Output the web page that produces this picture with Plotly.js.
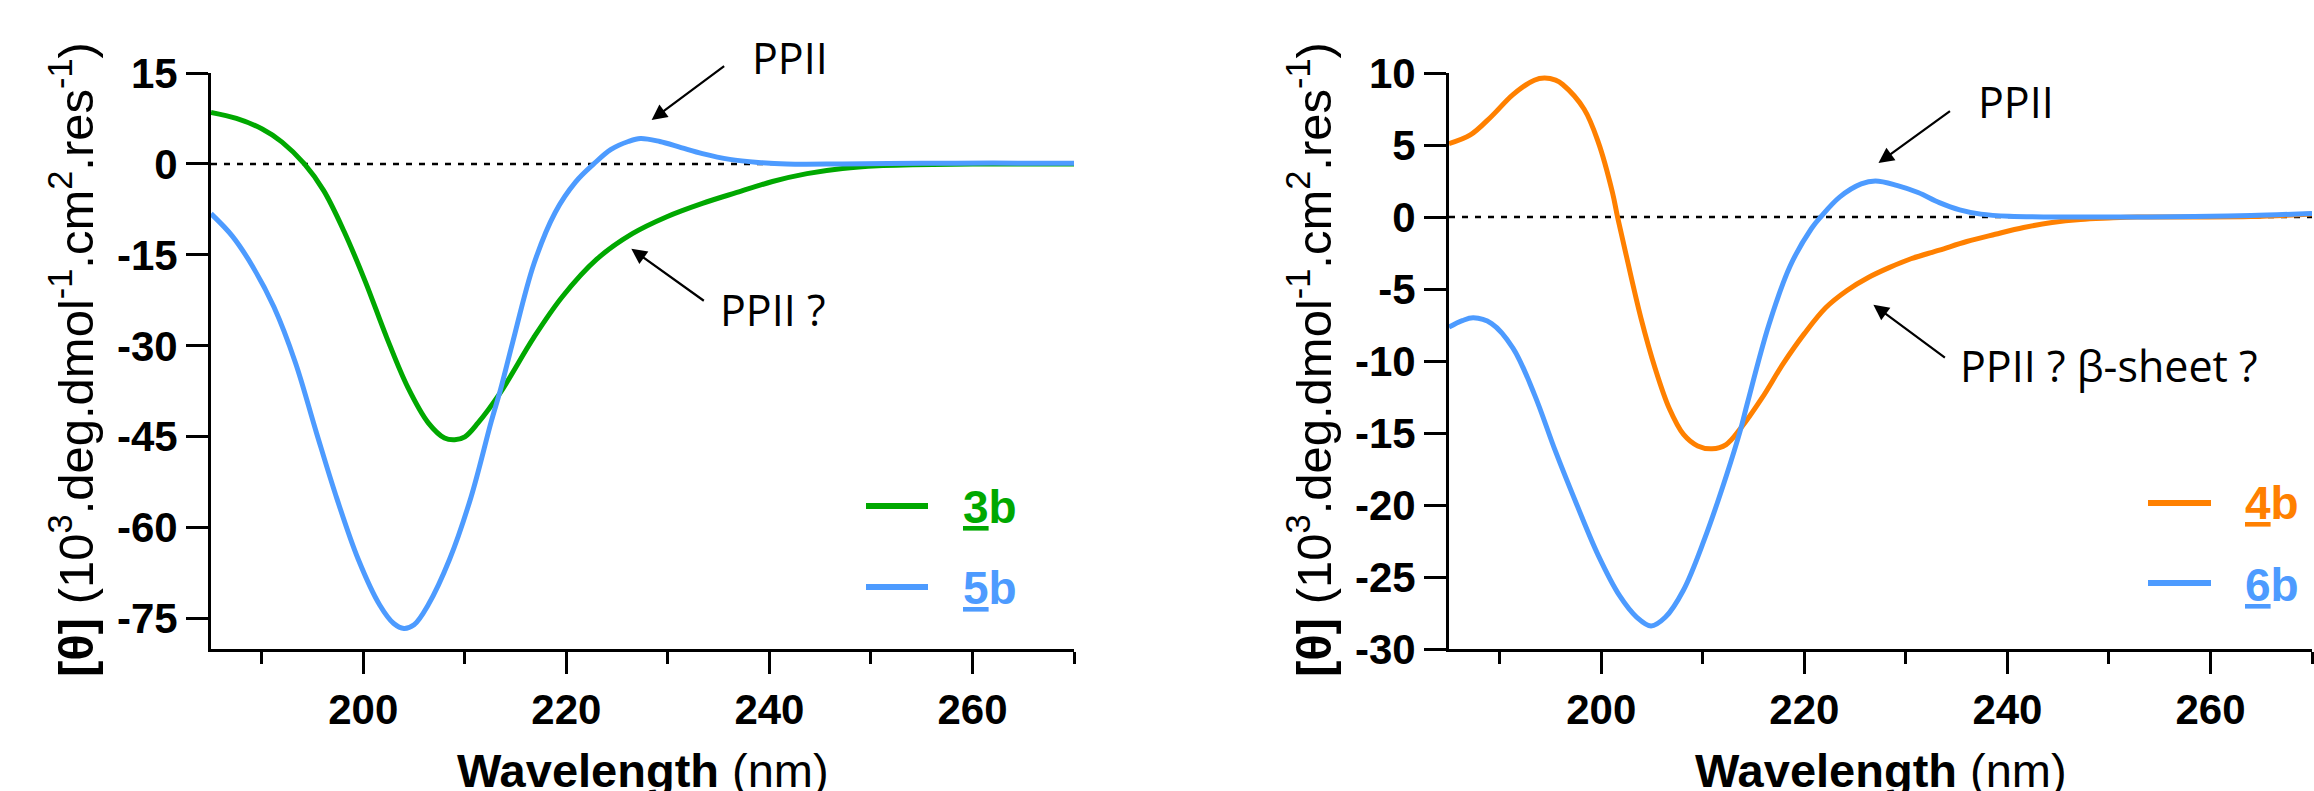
<!DOCTYPE html>
<html>
<head>
<meta charset="utf-8">
<script src="https://cdn.plot.ly/plotly-3.0.1.min.js"></script>
<style>html,body{margin:0;padding:0;background:#fff;}#chart{width:2314px;height:791px;}</style>
</head>
<body>
<div id="chart"></div>
<script>
// ---- Data ----
var wl_3b = [185, 187.5, 190, 192, 194.2, 196.1, 198.1, 200.2, 202.3, 204.4, 206.4, 208, 209, 210, 211.3, 213.5, 216.8, 219.6, 223, 226.5, 229.9, 233.4, 236.8, 240.3, 243.7, 247.2, 250.7, 254.1, 261, 270];
var theta_3b = [8.5, 7.5, 5.8, 3.6, 0, -4.4, -11.1, -19.4, -28.6, -36.9, -42.7, -45.2, -45.5, -45.0, -42.7, -37.7, -28.6, -21.9, -15.7, -11.5, -8.7, -6.5, -4.7, -2.9, -1.6, -0.75, -0.3, -0.15, 0, 0];

var wl_5b = [185, 187.1, 189.1, 191.2, 193.3, 195.4, 197.4, 199.5, 201.6, 203, 204, 205, 206.4, 208.5, 210.6, 212.6, 213.5, 214.7, 216.8, 218.9, 220.9, 222.7, 224.4, 226.1, 227.3, 229.2, 231.3, 233.4, 236.1, 238.9, 241.7, 247.2, 255, 262, 270];
var theta_5b = [-8.2, -11.9, -16.9, -23.6, -32.7, -44.4, -55.2, -65.2, -72.7, -75.8, -76.6, -76.0, -72.7, -65.2, -55.0, -42.5, -37.3, -29.5, -16.5, -8.0, -3.0, 0, 2.4, 3.7, 4.2, 3.7, 2.7, 1.7, 0.75, 0.25, 0, 0, 0.1, 0.15, 0.1];

var wl_4b = [185, 187.1, 189.2, 191.3, 193.4, 194.4, 195.5, 196.2, 198.3, 199.7, 201.1, 201.6, 202.5, 203.9, 205.3, 206.7, 208.1, 209.5, 210.9, 212.3, 213.7, 215.8, 217.9, 220, 222.1, 224.2, 226.3, 228.4, 230.5, 233.3, 236, 238.8, 241.6, 244.4, 247.2, 250, 252.8, 258.4, 264, 270];
var theta_4b = [5.1, 5.7, 7.0, 8.5, 9.5, 9.65, 9.5, 9.2, 7.5, 5.2, 1.7, 0, -2.8, -7.0, -10.5, -13.3, -15.1, -15.9, -16.1, -15.8, -14.7, -12.6, -10.2, -8.1, -6.3, -5.1, -4.2, -3.5, -2.9, -2.3, -1.7, -1.2, -0.73, -0.38, -0.17, -0.07, 0, 0, 0.03, 0.2];

var wl_6b = [185, 186.3, 187.4, 189.2, 191.3, 193.4, 195.5, 197.6, 199.7, 201.8, 203.5, 204.9, 206.3, 208.1, 210.2, 212.3, 213.7, 214.4, 216.5, 218.6, 220.7, 221.6, 223.5, 225.6, 227, 229.1, 231.2, 233.3, 235.3, 237.4, 240.2, 244.4, 251.4, 258.4, 264, 270];
var theta_6b = [-7.65, -7.2, -7.0, -7.4, -9.1, -12.3, -16.3, -20.0, -23.5, -26.3, -27.8, -28.4, -27.8, -25.9, -22.3, -18.0, -14.8, -12.9, -7.5, -3.4, -0.8, 0, 1.4, 2.3, 2.5, 2.2, 1.7, 1.0, 0.5, 0.2, 0.05, 0, 0, 0.03, 0.1, 0.25];

var xTicks = [200, 220, 240, 260];
var yTicksLeft = [15, 0, -15, -30, -45, -60, -75];
var yTicksRight = [10, 5, 0, -5, -10, -15, -20, -25, -30];

var seriesNames = ['<u>3</u>b', '<u>5</u>b', '<u>4</u>b', '<u>6</u>b'];
var colGreen = '#00a800', colBlue = '#4d9bff', colOrange = '#ff8000';

// ---- Layout helpers (pixels -> paper) ----
var W = 2314, H = 791;
function px(x) { return x / W; }
function py(y) { return 1 - y / H; }

var tickFont = {family: 'Liberation Sans, Arial, sans-serif', size: 42, color: '#000', weight: 'bold'};
var annFont = {family: 'Open Sans, Noto Sans, sans-serif', size: 43, color: '#000'};
var titleFont = {family: 'Liberation Sans, Arial, sans-serif', size: 47, color: '#000'};
var yTitleFont = {family: 'Liberation Sans, Arial, sans-serif', size: 49, color: '#000'};
var legFontBase = {family: 'Liberation Sans, Arial, sans-serif', size: 46, weight: 'bold'};

function line(x, y, color, xa, ya) {
  return {x: x, y: y, xaxis: xa, yaxis: ya, type: 'scatter', mode: 'lines',
          line: {color: color, width: 5, shape: 'spline', smoothing: 1},
          showlegend: false, hoverinfo: 'skip'};
}

var traces = [
  line(wl_3b, theta_3b, colGreen, 'x', 'y'),
  line(wl_5b, theta_5b, colBlue, 'x', 'y'),
  line(wl_4b, theta_4b, colOrange, 'x2', 'y2'),
  line(wl_6b, theta_6b, colBlue, 'x2', 'y2')
];

function xAxis(domain, anchor) {
  return {domain: domain, anchor: anchor, range: [185, 270], showgrid: false, zeroline: false,
          showline: true, linewidth: 3, linecolor: '#000', mirror: false,
          ticks: 'outside', ticklen: 22, tickwidth: 3, tickcolor: '#000',
          tickmode: 'array', tickvals: xTicks, ticktext: xTicks.map(String), tickfont: tickFont,
          minor: {dtick: 10, tick0: 190, ticks: 'outside', ticklen: 12, tickwidth: 3, tickcolor: '#000', showgrid: false}};
}
function yAxis(domain, anchor, range, vals) {
  return {domain: domain, anchor: anchor, range: range, showgrid: false, zeroline: false,
          showline: true, linewidth: 3, linecolor: '#000',
          ticks: 'outside', ticklen: 22, tickwidth: 3, tickcolor: '#000',
          tickmode: 'array', tickvals: vals, ticktext: vals.map(String), tickfont: tickFont};
}

var yDom = [py(649), py(73)];
var titleText = '<b>[θ]</b> (10<sup>3</sup>.deg.dmol<sup>-1</sup>.cm<sup>2</sup>.res<sup>-1</sup>)';
var layout = {
  width: W, height: H,
  margin: {l: 0, r: 0, t: 0, b: 0, pad: 0},
  paper_bgcolor: '#fff', plot_bgcolor: '#fff',
  showlegend: false,
  xaxis: xAxis([px(211), px(1074)], 'y'),
  yaxis: yAxis(yDom, 'x', [-80, 15], yTicksLeft),
  xaxis2: xAxis([px(1449), px(2312)], 'y2'),
  yaxis2: yAxis(yDom, 'x2', [-30, 10], yTicksRight),
  shapes: [
    {type: 'line', xref: 'x', yref: 'y', x0: 185, x1: 270, y0: 0, y1: 0, layer: 'below',
     line: {color: '#000', width: 2.5, dash: '6px,7px'}},
    {type: 'line', xref: 'x2', yref: 'y2', x0: 185, x1: 270, y0: 0, y1: 0, layer: 'below',
     line: {color: '#000', width: 2.5, dash: '6px,7px'}},
    // legend samples
    {type: 'line', xref: 'paper', yref: 'paper', x0: px(866), x1: px(928), y0: py(506), y1: py(506), line: {color: colGreen, width: 6}},
    {type: 'line', xref: 'paper', yref: 'paper', x0: px(866), x1: px(928), y0: py(587), y1: py(587), line: {color: colBlue, width: 6}},
    {type: 'line', xref: 'paper', yref: 'paper', x0: px(2148), x1: px(2211), y0: py(503), y1: py(503), line: {color: colOrange, width: 6}},
    {type: 'line', xref: 'paper', yref: 'paper', x0: px(2148), x1: px(2211), y0: py(583), y1: py(583), line: {color: colBlue, width: 6}}
  ],
  annotations: [
    // axis titles
    {xref: 'paper', yref: 'paper', x: px(72), y: py(360), xanchor: 'center', yanchor: 'middle', textangle: -90, showarrow: false,
     text: titleText, font: yTitleFont},
    {xref: 'paper', yref: 'paper', x: px(1310), y: py(360), xanchor: 'center', yanchor: 'middle', textangle: -90, showarrow: false,
     text: titleText, font: yTitleFont},
    {xref: 'paper', yref: 'paper', x: px(642.5), y: py(770), xanchor: 'center', yanchor: 'middle', showarrow: false,
     text: '<b>Wavelength</b> (nm)', font: titleFont},
    {xref: 'paper', yref: 'paper', x: px(1880.5), y: py(770), xanchor: 'center', yanchor: 'middle', showarrow: false,
     text: '<b>Wavelength</b> (nm)', font: titleFont},
    // legend labels
    {xref: 'paper', yref: 'paper', x: px(961), y: py(507), xanchor: 'left', yanchor: 'middle', showarrow: false,
     text: seriesNames[0], font: Object.assign({}, legFontBase, {color: colGreen})},
    {xref: 'paper', yref: 'paper', x: px(961), y: py(588), xanchor: 'left', yanchor: 'middle', showarrow: false,
     text: seriesNames[1], font: Object.assign({}, legFontBase, {color: colBlue})},
    {xref: 'paper', yref: 'paper', x: px(2243), y: py(503), xanchor: 'left', yanchor: 'middle', showarrow: false,
     text: seriesNames[2], font: Object.assign({}, legFontBase, {color: colOrange})},
    {xref: 'paper', yref: 'paper', x: px(2243), y: py(585), xanchor: 'left', yanchor: 'middle', showarrow: false,
     text: seriesNames[3], font: Object.assign({}, legFontBase, {color: colBlue})},
    // text labels
    {xref: 'paper', yref: 'paper', x: px(750), y: py(58), xanchor: 'left', yanchor: 'middle', showarrow: false, text: 'PPII', font: annFont},
    {xref: 'paper', yref: 'paper', x: px(718), y: py(309), xanchor: 'left', yanchor: 'middle', showarrow: false, text: 'PPII ?', font: annFont},
    {xref: 'paper', yref: 'paper', x: px(1976), y: py(102), xanchor: 'left', yanchor: 'middle', showarrow: false, text: 'PPII', font: annFont},
    {xref: 'paper', yref: 'paper', x: px(1958), y: py(365), xanchor: 'left', yanchor: 'middle', showarrow: false, text: 'PPII ? β-sheet ?', font: annFont},
    // arrows
    {xref: 'x', yref: 'y', x: 228.4, y: 7.25, ax: 74, ay: -55, text: '', showarrow: true, arrowhead: 2, arrowsize: 1.4, arrowwidth: 2.2, arrowcolor: '#000', standoff: 0},
    {xref: 'x', yref: 'y', x: 226.4, y: -14.0, ax: 74, ay: 53, text: '', showarrow: true, arrowhead: 2, arrowsize: 1.4, arrowwidth: 2.2, arrowcolor: '#000', standoff: 0},
    {xref: 'x2', yref: 'y2', x: 227.3, y: 3.75, ax: 73, ay: -53, text: '', showarrow: true, arrowhead: 2, arrowsize: 1.4, arrowwidth: 2.2, arrowcolor: '#000', standoff: 0},
    {xref: 'x2', yref: 'y2', x: 226.8, y: -6.1, ax: 73, ay: 54, text: '', showarrow: true, arrowhead: 2, arrowsize: 1.4, arrowwidth: 2.2, arrowcolor: '#000', standoff: 0}
  ]
};

Plotly.newPlot('chart', traces, layout, {displayModeBar: false, staticPlot: true});
</script>
</body>
</html>
